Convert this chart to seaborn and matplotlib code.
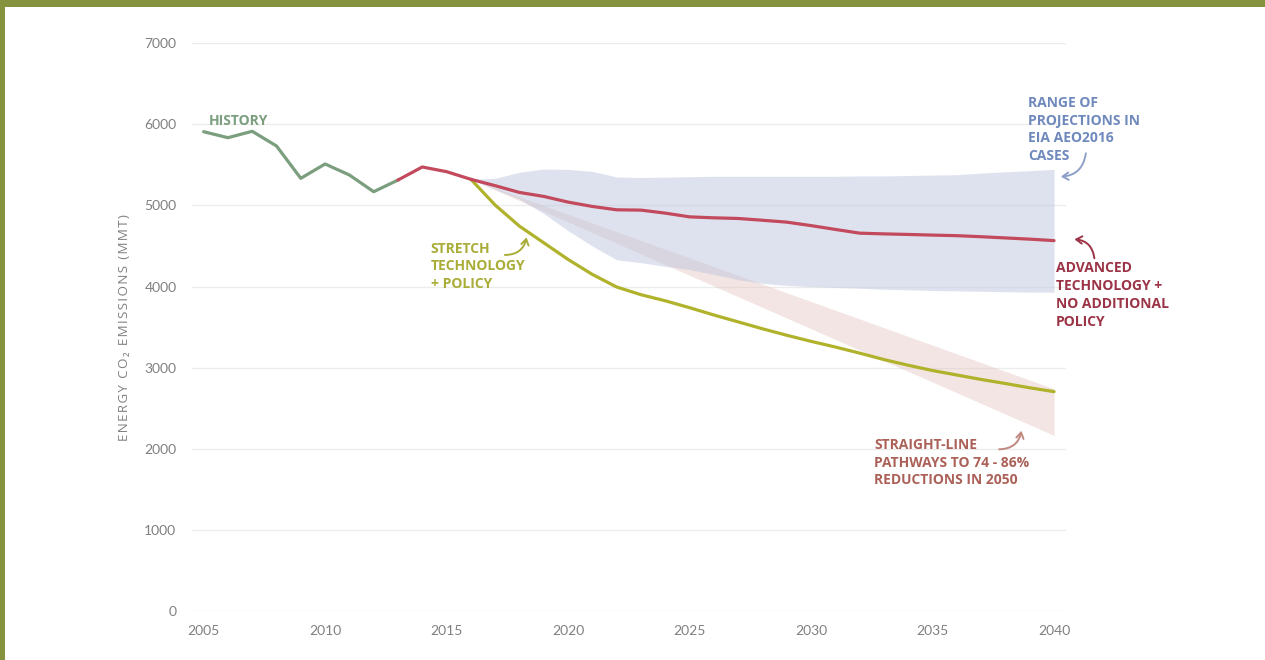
import matplotlib
matplotlib.use("Agg")
import matplotlib.pyplot as plt
import seaborn as sns
from matplotlib.patches import Rectangle

# ---------------- data ----------------
hist_years = list(range(2005, 2014))
hist_vals = [5910, 5836, 5915, 5734, 5335, 5512, 5376, 5170, 5314]

adv_years = list(range(2013, 2041))
adv_vals = [5314, 5475, 5417, 5323, 5244, 5161, 5112, 5042, 4988, 4947,
            4943, 4906, 4860, 4848, 4840, 4818, 4795, 4752, 4705, 4659,
            4650, 4643, 4635, 4628, 4615, 4600, 4585, 4567]

stretch_years = list(range(2016, 2041))
stretch_vals = [5323, 5005, 4745, 4540, 4335, 4150, 3995, 3900, 3825, 3740,
                3650, 3565, 3480, 3400, 3325, 3255, 3180, 3100, 3030, 2965,
                2910, 2855, 2805, 2752, 2705]

eia_years = list(range(2016, 2041))
eia_high = [5323, 5335, 5410, 5450, 5445, 5420, 5352, 5345, 5350, 5355,
            5360, 5360, 5360, 5360, 5360, 5360, 5365, 5365, 5370, 5375,
            5380, 5400, 5415, 5430, 5445]
eia_low = [5323, 5200, 5080, 4900, 4690, 4500, 4330, 4295, 4250, 4210,
           4150, 4085, 4040, 4015, 4000, 3990, 3980, 3967, 3960, 3952,
           3947, 3942, 3937, 3932, 3930]

path_years = [2016, 2040]
path_high = [5323, 2740]
path_low = [5323, 2165]

y_ticks = [0, 1000, 2000, 3000, 4000, 5000, 6000, 7000]
x_ticks = [2005, 2010, 2015, 2020, 2025, 2030, 2035, 2040]
y_title = "ENERGY CO\u2082 EMISSIONS (MMT)"

# ---------------- style ----------------
sns.set_theme(style="white")
plt.rcParams["font.family"] = ["Open Sans", "DejaVu Sans"]

GREEN = "#7a9e7e"
RED = "#c24a5c"
OLIVE_LINE = "#b1b22c"
BORDER = "#85923e"
TICK = "#808080"

W, H = 1265, 660
fig = plt.figure(figsize=(W / 100, H / 100), dpi=100)
fig.patch.set_facecolor("white")

left, right, bottom, top = 191.7, 1065.7, 611.0, 43.3
ax = fig.add_axes([left / W, (H - bottom) / H, (right - left) / W, (bottom - top) / H])
ax.set_facecolor("white")

# bands
ax.fill_between(path_years, path_low, path_high, color="#e4c6c1", alpha=0.45,
                lw=0, zorder=1)
ax.fill_between(eia_years, eia_low, eia_high, color="#bfc7de", alpha=0.5,
                lw=0, zorder=2)

# lines
sns.lineplot(x=hist_years, y=hist_vals, ax=ax, color=GREEN, lw=2.3, zorder=4)
sns.lineplot(x=stretch_years, y=stretch_vals, ax=ax, color=OLIVE_LINE, lw=2.3, zorder=4)
sns.lineplot(x=adv_years, y=adv_vals, ax=ax, color=RED, lw=2.3, zorder=5)

# axes
ax.set_xlim(2004.51, 2040.48)
ax.set_ylim(0, 7000)
ax.set_yticks(y_ticks)
ax.set_xticks(x_ticks)
ax.set_yticklabels([str(v) for v in y_ticks])
ax.set_xticklabels([str(v) for v in x_ticks])
for lab in ax.get_xticklabels() + ax.get_yticklabels():
    lab.set_fontfamily(["Lato", "DejaVu Sans"])
    lab.set_fontsize(10)
    lab.set_color(TICK)
ax.tick_params(axis="y", length=0, pad=11)
ax.tick_params(axis="x", length=0, pad=10)
ax.grid(axis="y", color="#ececec", lw=1, zorder=0)
ax.grid(axis="x", visible=False)
for s in ax.spines.values():
    s.set_visible(False)
ax.set_axisbelow(True)
ax.set_xlabel("")
ax.set_ylabel("")

# y-axis title (letter-spaced like the reference)
spaced = "\u200a".join(y_title)
fig.text(131 / W, (H - 327.5) / H, spaced, rotation=90, ha="right", va="center",
         fontsize=9.6, color=TICK, family=["Open Sans", "DejaVu Sans"])

# annotations
def label(x, y, txt, color):
    ax.text(x, y, txt, color=color, fontsize=10, fontweight="bold",
            ha="left", va="center", linespacing=1.35, zorder=6)

label(2005.22, 6048, "HISTORY", GREEN)
label(2014.34, 4248, "STRETCH\nTECHNOLOGY\n+ POLICY", "#a9ad38")
label(2038.93, 5937, "RANGE OF\nPROJECTIONS IN\nEIA AEO2016\nCASES", "#6f89bd")
label(2040.07, 3898, "ADVANCED\nTECHNOLOGY +\nNO ADDITIONAL\nPOLICY", "#9c3447")
label(2032.60, 1831, "STRAIGHT-LINE\nPATHWAYS TO 74 - 86%\nREDUCTIONS IN 2050", "#ab6158")

def arrow(tail, head, color, rad):
    ax.annotate("", xy=head, xytext=tail, annotation_clip=False,
                arrowprops=dict(arrowstyle="->,head_length=0.35,head_width=0.22",
                                color=color, lw=1.4,
                                connectionstyle=f"arc3,rad={rad}",
                                shrinkA=0, shrinkB=0), zorder=6)

arrow((2017.40, 4390), (2018.29, 4608), "#a9ad38", 0.4)
arrow((2041.31, 5644), (2040.28, 5355), "#8fa0c8", -0.4)
arrow((2041.66, 4349), (2040.84, 4583), "#9c3447", 0.4)
arrow((2037.74, 1994), (2038.66, 2223), "#c08880", 0.4)

# border
fig.add_artist(Rectangle((0, 1 - 7 / H), 1, 7 / H, transform=fig.transFigure,
                         color=BORDER, lw=0))
fig.add_artist(Rectangle((0, 0), 5 / W, 1, transform=fig.transFigure,
                         color=BORDER, lw=0))

fig.savefig("out.png", dpi=100, facecolor="white")
